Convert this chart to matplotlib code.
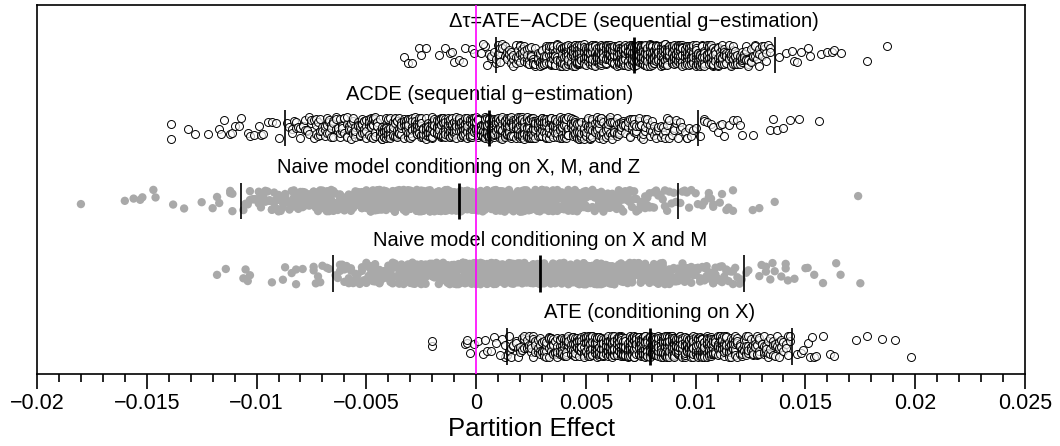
import numpy as np
import matplotlib
matplotlib.use("Agg")
import matplotlib.pyplot as plt

plt.rcParams['font.family'] = ['Liberation Sans', 'DejaVu Sans']

SCALE = 1e-4  # all x values below are in units of 1e-4

row_names = [
    "Δτ=ATE−ACDE (sequential g−estimation)",
    "ACDE (sequential g−estimation)",
    "Naive model conditioning on X, M, and Z",
    "Naive model conditioning on X and M",
    "ATE (conditioning on X)",
]
row_pos = [5, 4, 3, 2, 1]
row_filled = [False, False, True, True, False]

# 2.5%, 50%, 97.5% quantile marks
q_delta = [9, 72, 136]
q_acde = [-87, 6, 101]
q_xmz = [-107, -8, 92]
q_xm = [-65, 29, 122]
q_ate = [14, 79, 144]

# isolated points in the tails, read one by one
delta_tail = [-33, -31, -29, -26, -25, -23, -17, -14, -12, -11, -10, -8, -6, -5, -2, -1, 2, 3,
              138, 141, 144, 145, 146, 148, 151, 152, 157, 160, 162, 163, 166, 178, 187]
acde_tail = [-139, -139, -131, -128, -122, -117, -116, -115, -112, -111, -110, -108, -107, -104,
             -103, -101, -99, -98, -97, -95, -93, -91, -90,
             102, 104, 104, 105, 107, 108, 110, 111, 112, 113, 115, 117, 119, 120, 121, 126,
             134, 135, 137, 140, 143, 147, 156]
xmz_tail = [-180, -160, -156, -153, -152, -147, -146, -138, -133, -125, -120, -118, -117, -112,
            -112, -111, -111,
            93, 94, 95, 96, 97, 98, 100, 101, 103, 104, 106, 106, 107, 108, 108, 111, 112, 114,
            115, 117, 117, 126, 129, 136, 174]
xm_tail = [-118, -114, -106, -105, -104, -103, -93, -88, -87, -84, -82, -82, -79, -74, -74, -73,
           -72, -71, -70, -68, -67,
           123, 124, 129, 130, 132, 132, 134, 135, 136, 139, 141, 141, 142, 145, 150, 151, 154,
           158, 164, 166, 175]
ate_tail = [-20, -5, -4, -4, -3, -1, 1, 3, 4, 5, 7, 8, 9, 11, -20,
            146, 148, 149, 151, 152, 153, 154, 155, 158, 161, 163, 173, 178, 185, 191, 198]

# dense core: number of points in each 1e-4 bin, starting at core_start
delta_core_start = 4
delta_core_counts = [
    1, 1, 1, 2, 1, 2, 2, 2,
    2, 2, 3, 2, 3, 3, 3, 3, 4, 3,
    4, 4, 4, 4, 5, 4, 5, 5, 5, 6,
    5, 6, 6, 6, 7, 6, 7, 7, 8, 7,
    8, 8, 8, 9, 8, 9, 9, 10, 9, 10,
    10, 10, 10, 11, 10, 11, 11, 11, 12, 11,
    12, 12, 11, 12, 12, 12, 13, 12, 12, 12,
    12, 12, 13, 12, 12, 12, 11, 12, 12, 11,
    12, 11, 11, 11, 10, 11, 10, 10, 10, 10,
    10, 9, 10, 9, 9, 8, 9, 8, 8, 8,
    7, 8, 7, 7, 6, 7, 6, 6, 6, 5,
    6, 5, 5, 5, 4, 5, 4, 4, 4, 4,
    3, 4, 3, 3, 3, 3, 2, 3, 2, 2,
    2, 1, 2,
]

acde_core_start = -86
acde_core_counts = [
    1, 1, 2, 1, 2, 1, 2, 2, 2, 2,
    2, 2, 2, 3, 2, 3, 2, 3, 3, 3,
    3, 3, 3, 3, 3, 4, 3, 4, 4, 3,
    4, 4, 4, 4, 4, 5, 4, 4, 5, 5,
    5, 5, 5, 5, 5, 6, 5, 6, 6, 5,
    6, 6, 6, 6, 6, 7, 6, 7, 7, 6,
    7, 7, 7, 7, 7, 7, 8, 7, 7, 8,
    7, 8, 8, 7, 8, 8, 8, 8, 8, 8,
    8, 8, 8, 8, 8, 9, 8, 8, 8, 8,
    8, 8, 9, 8, 8, 8, 8, 8, 8, 8,
    8, 8, 8, 8, 8, 8, 7, 8, 8, 7,
    8, 7, 7, 8, 7, 7, 7, 7, 7, 6,
    7, 7, 6, 6, 6, 7, 6, 6, 6, 6,
    6, 6, 5, 6, 5, 5, 5, 5, 5, 5,
    5, 4, 5, 4, 4, 4, 4, 4, 4, 4,
    4, 3, 4, 3, 3, 3, 3, 3, 3, 3,
    3, 3, 2, 3, 2, 3, 2, 2, 2, 2,
    2, 2, 2, 2, 2, 1, 2, 2, 1, 2,
    1, 1, 2, 1, 1, 1, 1,
]

xmz_core_start = -106
xmz_core_counts = [
    1, 1, 1, 2, 1, 2, 1, 2, 2, 2,
    2, 2, 2, 2, 2, 2, 3, 2, 2, 3,
    2, 3, 3, 3, 3, 3, 3, 3, 3, 3,
    3, 3, 4, 3, 4, 4, 3, 4, 4, 4,
    4, 4, 4, 4, 5, 4, 5, 5, 5, 5,
    5, 5, 5, 5, 5, 6, 5, 6, 6, 6,
    6, 6, 6, 6, 6, 6, 7, 6, 7, 7,
    7, 7, 7, 7, 7, 7, 7, 7, 7, 8,
    7, 8, 8, 7, 8, 8, 8, 8, 8, 8,
    8, 8, 8, 8, 8, 8, 8, 8, 8, 8,
    8, 8, 8, 8, 8, 8, 8, 8, 8, 7,
    8, 8, 7, 8, 7, 8, 7, 7, 7, 7,
    7, 7, 7, 7, 7, 7, 6, 7, 6, 6,
    6, 6, 6, 6, 6, 6, 6, 5, 6, 5,
    5, 5, 5, 5, 5, 5, 5, 4, 5, 4,
    4, 4, 4, 4, 4, 4, 4, 4, 3, 4,
    3, 3, 3, 3, 3, 3, 3, 3, 3, 3,
    3, 3, 2, 3, 2, 2, 2, 2, 2, 2,
    2, 2, 2, 2, 2, 2, 1, 2, 1, 2,
    1, 1, 2, 1, 1, 1, 1, 1,
]

xm_core_start = -64
xm_core_counts = [
    1, 1, 2, 1, 2, 1, 2, 2, 2, 2,
    2, 2, 2, 2, 3, 2, 3, 2, 3, 3,
    3, 3, 3, 3, 3, 3, 3, 4, 3, 4,
    4, 4, 4, 4, 4, 4, 4, 5, 4, 5,
    5, 5, 5, 5, 5, 5, 6, 5, 6, 6,
    6, 6, 6, 6, 6, 7, 6, 7, 7, 7,
    7, 7, 7, 7, 7, 7, 8, 7, 8, 8,
    8, 8, 8, 8, 8, 8, 8, 8, 8, 8,
    8, 8, 8, 9, 8, 8, 8, 9, 8, 8,
    9, 8, 8, 9, 8, 8, 8, 9, 8, 8,
    8, 8, 8, 8, 8, 8, 8, 8, 8, 8,
    8, 8, 8, 7, 8, 7, 7, 7, 7, 7,
    7, 7, 7, 7, 7, 6, 6, 6, 6, 6,
    6, 6, 6, 6, 5, 5, 5, 5, 5, 5,
    5, 5, 5, 4, 4, 4, 4, 4, 4, 4,
    4, 4, 4, 3, 3, 3, 3, 3, 3, 3,
    3, 3, 3, 3, 2, 3, 2, 2, 2, 2,
    2, 2, 2, 2, 2, 2, 2, 1, 2, 1,
    1, 2, 1, 1, 1, 1,
]

ate_core_start = 12
ate_core_counts = [
    1, 2, 1, 2, 2, 2, 2, 2, 3, 2,
    3, 3, 3, 3, 3, 4, 3, 4, 4, 4,
    4, 5, 5, 5, 5, 5, 6, 6, 6, 6,
    6, 7, 7, 7, 7, 8, 8, 8, 8, 9,
    9, 9, 9, 10, 9, 10, 10, 10, 10, 11,
    10, 11, 11, 11, 11, 11, 12, 11, 12, 12,
    12, 12, 12, 12, 12, 12, 12, 12, 12, 12,
    12, 12, 12, 12, 11, 12, 11, 11, 11, 11,
    11, 11, 11, 10, 11, 10, 10, 10, 10, 9,
    9, 9, 9, 9, 8, 8, 8, 8, 7, 7,
    7, 7, 7, 6, 6, 6, 6, 6, 5, 5,
    5, 5, 5, 4, 4, 4, 4, 4, 3, 4,
    3, 3, 3, 3, 3, 2, 3, 2, 2, 2,
    2, 2,
]

tails = [delta_tail, acde_tail, xmz_tail, xm_tail, ate_tail]
core_starts = [delta_core_start, acde_core_start, xmz_core_start, xm_core_start, ate_core_start]
core_counts = [delta_core_counts, acde_core_counts, xmz_core_counts, xm_core_counts, ate_core_counts]
all_q = [q_delta, q_acde, q_xmz, q_xm, q_ate]

x_ticks = [-0.02, -0.015, -0.01, -0.005, 0, 0.005, 0.01, 0.015, 0.02, 0.025]
x_tick_labels = ["−0.02", "−0.015", "−0.01", "−0.005", "0", "0.005", "0.01", "0.015", "0.02", "0.025"]

fig = plt.figure(figsize=(10.6, 4.46), dpi=100)
ax = fig.add_axes([37 / 1060, 1 - 374 / 446, 988 / 1060, 369 / 446])

JIT = 0.15
for k, (name, y0, filled, tail, c0, cnt, q) in enumerate(
        zip(row_names, row_pos, row_filled, tails, core_starts, core_counts, all_q)):
    bins = c0 + np.arange(len(cnt))
    vals = np.concatenate([np.repeat(bins, cnt), tail])
    x = vals * SCALE
    # deterministic vertical jitter (hash of the point index)
    idx = np.arange(len(x)) + 1
    u = (np.sin(idx * 12.9898 + k * 78.233) * 43758.5453) % 1.0
    y = y0 + (u - 0.5) * 2 * JIT
    if filled:
        ax.scatter(x, y, s=36, color="#a9a9a9", edgecolors="none", zorder=2)
    else:
        ax.scatter(x, y, s=33, facecolors=(1, 1, 1, 0.7), edgecolors="black",
                   linewidths=0.7, zorder=2)
    qx = np.array(q) * SCALE
    ax.vlines(qx[[0, 2]], y0 - 0.25, y0 + 0.25, color="black", lw=1.2, zorder=3)
    ax.vlines(qx[1], y0 - 0.25, y0 + 0.25, color="black", lw=2.0, zorder=3)
    ax.text(qx[1], y0 + 0.46, name, ha="center", va="center", fontsize=14.5)

ax.axvline(0, color="magenta", lw=1.2, zorder=4)

ax.set_xlim(-0.02, 0.025)
ax.set_ylim(0.62, 5.69)
ax.set_yticks([])
ax.set_xticks(x_ticks, x_tick_labels, fontsize=15.5)
ax.set_xticks(np.arange(-0.02, 0.0251, 0.001), minor=True)
ax.tick_params(axis="x", which="major", length=11, width=1.2, pad=3)
ax.tick_params(axis="x", which="minor", length=6, width=1.2)
ax.set_xlabel("Partition Effect", fontsize=18.5, labelpad=2)
for sp in ax.spines.values():
    sp.set_linewidth(1.2)

fig.savefig("out.png", dpi=100)
